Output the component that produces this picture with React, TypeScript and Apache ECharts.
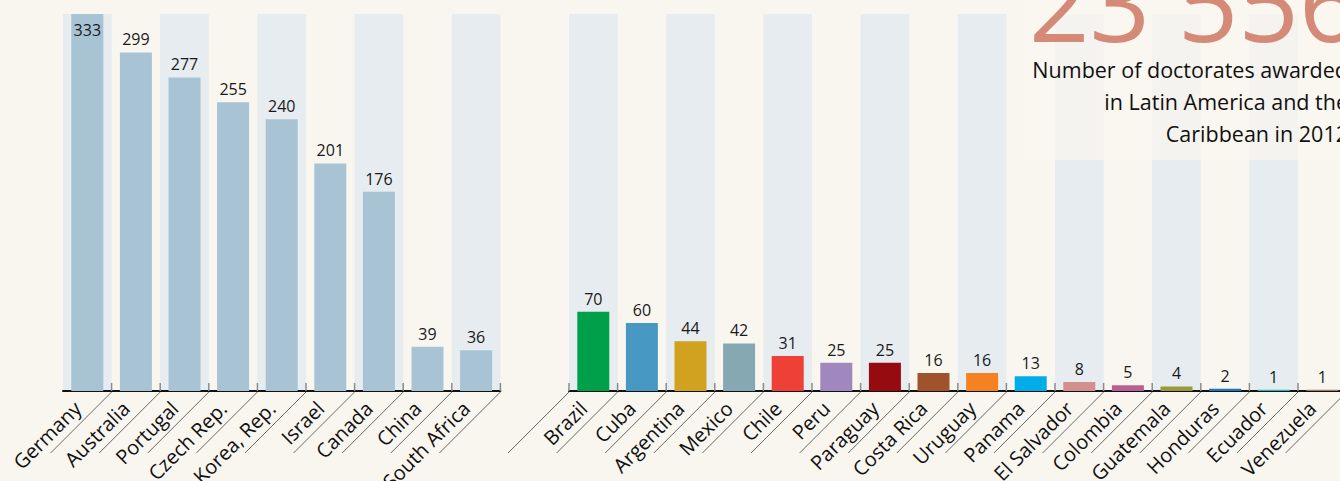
import React, { useEffect, useRef } from "react";
import * as echarts from "echarts";

const leftCategories = ["Germany", "Australia", "Portugal", "Czech Rep.", "Korea, Rep.", "Israel", "Canada", "China", "South Africa"];
const leftValues = [333, 299, 277, 255, 240, 201, 176, 39, 36];

const rightCategories = ["Brazil", "Cuba", "Argentina", "Mexico", "Chile", "Peru", "Paraguay", "Costa Rica", "Uruguay", "Panama", "El Salvador", "Colombia", "Guatemala", "Honduras", "Ecuador", "Venezuela"];
const rightValues = [70, 60, 44, 42, 31, 25, 25, 16, 16, 13, 8, 5, 4, 2, 1, 1];
const rightColors = ["#00a04b", "#4799c3", "#d1a220", "#85a8b3", "#ee4036", "#a088bf", "#960b10", "#a0532a", "#f58220", "#00adea", "#d38f8c", "#b96093", "#9a9a3a", "#1b75bc", "#2ab6b0", "#9c7b6a"];

const totalLabel = "23 556";
const subtitleLines = ["Number of doctorates awarded", "in Latin America and the", "Caribbean in 2012"];

const FONT = "'Open Sans', 'Noto Sans', sans-serif";
const BG = "#f9f6f0";
const BAND = "#e6ecef";
const Y_MAX = 333;

export default function App() {
  const ref = useRef<HTMLDivElement>(null);

  useEffect(() => {
    document.body.style.margin = "0";
    document.body.style.background = BG;
    const chart = echarts.init(ref.current as HTMLDivElement, null, { renderer: "svg" });

    const catAxis = (idx: number, cats: string[]) => ({
      type: "category",
      gridIndex: idx,
      data: cats,
      boundaryGap: true,
      axisLine: { show: true, lineStyle: { color: "#111", width: 2 } },
      axisTick: { show: false },
      splitLine: { show: false },
      splitArea: { show: true, areaStyle: { color: [BAND, "rgba(0,0,0,0)"] } },
      axisLabel: {
        interval: 0,
        rotate: 45,
        margin: 4,
        padding: [0, 14, 0, 0],
        fontSize: 20,
        color: "#111",
        fontFamily: FONT,
      },
    });
    const valAxis = (idx: number) => ({
      type: "value",
      gridIndex: idx,
      min: 0,
      max: Y_MAX,
      show: false,
      splitLine: { show: false },
    });
    const labelStyle = {
      show: true,
      position: "top",
      distance: 5,
      fontSize: 16,
      color: "#1a1a1a",
      fontFamily: FONT,
    };

    chart.setOption({
      animation: false,
      backgroundColor: BG,
      grid: [
        { left: 63, top: 14, width: 437.4, height: 377, containLabel: false, outerBoundsMode: "none" },
        { left: 569, top: 14, width: 777.6, height: 377, containLabel: false, outerBoundsMode: "none" },
      ],
      xAxis: [catAxis(0, leftCategories), catAxis(1, rightCategories)],
      yAxis: [valAxis(0), valAxis(1)],
      series: [
        {
          type: "bar",
          xAxisIndex: 0,
          yAxisIndex: 0,
          barWidth: 32,
          itemStyle: { color: "#a7c3d4" },
          label: labelStyle,
          data: leftValues.map((v, i) =>
            i === 0 ? { value: v, label: { position: "insideTop", distance: 8 } } : v
          ),
        },
        {
          type: "bar",
          xAxisIndex: 1,
          yAxisIndex: 1,
          barWidth: 32,
          label: labelStyle,
          data: rightValues.map((v, i) => ({ value: v, itemStyle: { color: rightColors[i] } })),
        },
      ],
    });

    const elements: any[] = [];
    const addTicks = (axisIdx: number, cats: string[], skipFirst: boolean) => {
      const c0 = chart.convertToPixel({ xAxisIndex: axisIdx } as any, cats[0]) as number;
      const c1 = chart.convertToPixel({ xAxisIndex: axisIdx } as any, cats[1]) as number;
      const bw = c1 - c0;
      const y0 = chart.convertToPixel({ yAxisIndex: axisIdx } as any, 0) as number;
      for (let i = 0; i <= cats.length; i++) {
        if (skipFirst && i === 0) continue;
        const tx = c0 - bw / 2 + i * bw;
        elements.push({
          type: "line",
          z: 10,
          shape: { x1: tx, y1: y0 - 8, x2: tx, y2: y0 },
          style: { stroke: "#8c8c8c", lineWidth: 1.5 },
        });
        elements.push({
          type: "line",
          z: 10,
          shape: { x1: tx, y1: y0 + 1, x2: tx - 61, y2: y0 + 62 },
          style: { stroke: "#444", lineWidth: 0.8 },
        });
      }
    };
    addTicks(0, leftCategories, true);
    addTicks(1, rightCategories, false);

    elements.push({
      type: "rect",
      z: 20,
      shape: { x: 1025, y: 0, width: 330, height: 160 },
      style: { fill: BG, opacity: 0.75 },
    });
    elements.push({
      type: "text",
      z: 21,
      x: 1029,
      y: 54,
      style: {
        text: totalLabel,
        fontSize: 106,
        fontFamily: FONT,
        fill: "#d58a78",
        align: "left",
        verticalAlign: "bottom",
      },
    });
    elements.push({
      type: "text",
      z: 21,
      x: 1348,
      y: 53,
      style: {
        text: subtitleLines.join("\n"),
        fontSize: 21.5,
        lineHeight: 32,
        fontFamily: FONT,
        fill: "#111",
        align: "right",
        verticalAlign: "top",
      },
    });

    chart.setOption({ graphic: elements });

    return () => chart.dispose();
  }, []);

  return (
    <div style={{ position: "fixed", left: 0, top: 0, width: 1340, height: 481, overflow: "hidden", background: BG }}>
      <div ref={ref} style={{ width: 1340, height: 481 }} />
    </div>
  );
}
